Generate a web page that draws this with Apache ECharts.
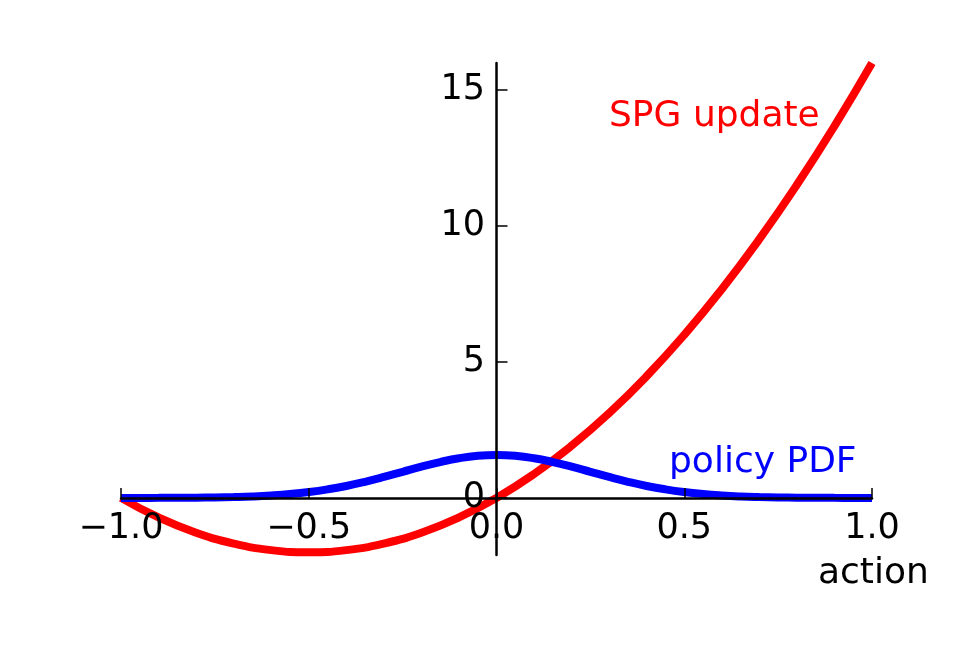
<!DOCTYPE html>
<html>
<head>
<meta charset="utf-8">
<script src="https://cdn.jsdelivr.net/npm/echarts@6/dist/echarts.min.js"></script>
<style>
html, body { margin: 0; padding: 0; background: #fff; }
#chart { width: 969px; height: 646px; }
</style>
</head>
<body>
<div id="chart"></div>
<script>
// values
var spgX = [-1, -0.9, -0.8, -0.7, -0.6, -0.5, -0.4, -0.3, -0.2, -0.1, 0, 0.1, 0.2, 0.3, 0.4, 0.5, 0.6, 0.7, 0.8, 0.9, 1];
var spgY = [0, -0.72, -1.28, -1.68, -1.92, -2.0, -1.92, -1.68, -1.28, -0.72, 0, 0.88, 1.92, 3.12, 4.48, 6.0, 7.68, 9.52, 11.52, 13.68, 16];

var pdfX = [-1, -0.95, -0.9, -0.85, -0.8, -0.75, -0.7, -0.65, -0.6, -0.55, -0.5, -0.45, -0.4, -0.35, -0.3, -0.25, -0.2, -0.15, -0.1, -0.05,
            0, 0.05, 0.1, 0.15, 0.2, 0.25, 0.3, 0.35, 0.4, 0.45, 0.5, 0.55, 0.6, 0.65, 0.7, 0.75, 0.8, 0.85, 0.9, 0.95, 1];
var pdfY = [0.0005, 0.001, 0.0024, 0.005, 0.0095, 0.018, 0.032, 0.054, 0.09, 0.142, 0.215, 0.314, 0.44, 0.594, 0.77, 0.96, 1.15, 1.32, 1.46, 1.55,
            1.58, 1.55, 1.46, 1.32, 1.15, 0.96, 0.77, 0.594, 0.44, 0.314, 0.215, 0.142, 0.09, 0.054, 0.032, 0.018, 0.0095, 0.005, 0.0024, 0.001, 0.0005];

var xTicks = [-1, -0.5, 0, 0.5, 1];
var yTicks = [0, 5, 10, 15];

function pairs(xs, ys) {
    return xs.map(function (x, i) { return [x, ys[i]]; });
}

var font = 'DejaVu Sans';
var myChart = echarts.init(document.getElementById('chart'));

var option = {
    animation: false,
    backgroundColor: '#fff',
    grid: {
        left: 121,
        right: 97,
        top: 63,
        bottom: 91
    },
    xAxis: {
        type: 'value',
        min: -1,
        max: 1,
        interval: 0.5,
        z: 10,
        splitLine: { show: false },
        axisLine: { onZero: true, lineStyle: { color: '#000', width: 2.5 } },
        axisTick: { inside: true, length: 10, customValues: xTicks, lineStyle: { color: '#000', width: 1.5 } },
        axisLabel: {
            // labels follow the zero line, not the grid edge
            margin: -44,
            color: '#000',
            fontFamily: font,
            fontSize: 35,
            customValues: xTicks,
            formatter: function (v) {
                return Number(v).toFixed(1).replace('-', '\u2212');
            }
        }
    },
    yAxis: {
        type: 'value',
        min: -2.1,
        max: 16,
        z: 10,
        splitLine: { show: false },
        axisLine: { onZero: true, lineStyle: { color: '#000', width: 2.5 } },
        axisTick: { inside: true, length: 11, customValues: yTicks, lineStyle: { color: '#000', width: 1.5 } },
        axisLabel: {
            margin: -364,
            color: '#000',
            fontFamily: font,
            fontSize: 35,
            customValues: yTicks
        }
    },
    series: [
        {
            name: 'SPG update',
            type: 'line',
            smooth: true,
            showSymbol: false,
            data: pairs(spgX, spgY),
            lineStyle: { color: '#ff0000', width: 8 },
            itemStyle: { color: '#ff0000' }
        },
        {
            name: 'policy PDF',
            type: 'line',
            smooth: true,
            showSymbol: false,
            data: pairs(pdfX, pdfY),
            lineStyle: { color: '#0000ff', width: 8 },
            itemStyle: { color: '#0000ff' }
        }
    ],
    graphic: [
        {
            type: 'text', left: 609, top: 99,
            style: { text: 'SPG update', fill: '#ff0000', font: '36px "DejaVu Sans"' }
        },
        {
            type: 'text', left: 669, top: 445,
            style: { text: 'policy PDF', fill: '#0000ff', font: '36px "DejaVu Sans"' }
        },
        {
            type: 'text', left: 818, top: 556,
            style: { text: 'action', fill: '#000', font: '36px "DejaVu Sans"' }
        }
    ]
};

myChart.setOption(option);
</script>
</body>
</html>
